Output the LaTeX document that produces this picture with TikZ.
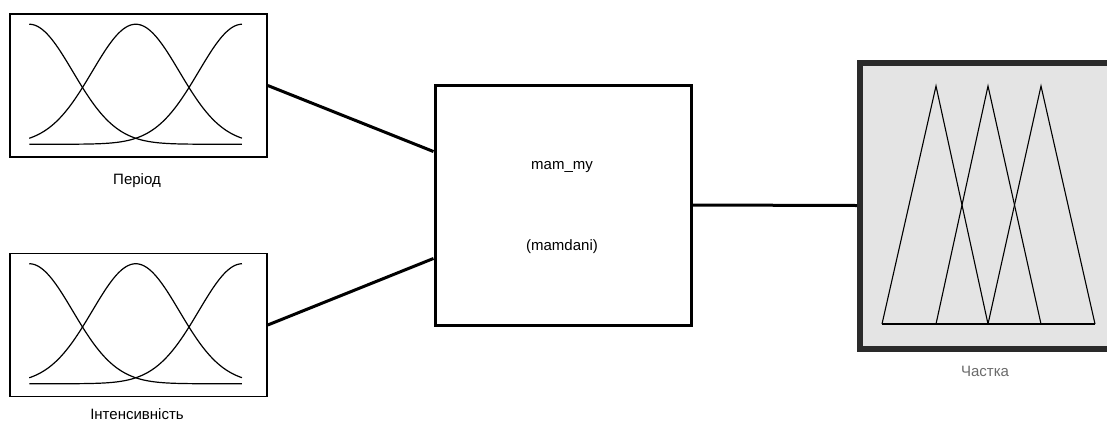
\documentclass[tikz,border=0pt]{standalone}
\usepackage{fontspec}
\setmainfont{Liberation Sans}
\usetikzlibrary{calc}
\definecolor{framegray}{HTML}{2A2A2A}
\definecolor{fillgray}{HTML}{E4E4E4}
\definecolor{labelgray}{HTML}{6A6A6A}
\tikzset{
  mfbox/.style={draw=black, line width=1.5pt, minimum width=257pt, minimum height=143pt, inner sep=0pt},
  mainbox/.style={draw=black, line width=3pt, minimum width=256pt, minimum height=240pt, inner sep=0pt},
  conn/.style={line width=3pt, black},
  mf/.style={line width=1.2pt, black},
  lbl/.style={font=\fontsize{15}{17}\selectfont, inner sep=0pt},
}
\begin{document}
\begin{tikzpicture}[x=1pt,y=-1pt]
\useasboundingbox (0,0) rectangle (1107,426);
% input boxes
\node[mfbox] (in1) at (138.5,85.5) {};
\node[mfbox] (in2) at (138.5,325) {};
\node[lbl] (l1) at (137,181) {Період};
\node[lbl] (l2) at (137,414) {Інтенсивність};
% gaussian membership functions
\foreach \b in {in1,in2}{
  \begin{scope}[shift={(\b.north west)}]
    \foreach \c in {0,106.5,213}{
      \draw[mf] plot[domain=0:1,samples=120] ({20+213*\x},{131-120*exp(-0.5*((213*\x-\c)/43.5)^2)});
    }
  \end{scope}
}
% main box
\node[mainbox] (mid) at (563,205) {};
\node[lbl] (t1) at (562,167) {mam\_my};
\node[lbl] (t2) at (562,247) {(mamdani)};
% output box
\begin{scope}
  \clip (0,0) rectangle (1107,426);
  \node[draw=framegray, fill=fillgray, line width=6pt, minimum width=260pt, minimum height=286pt, inner sep=0pt] (out) at (990,205.5) {};
\end{scope}
\node[lbl, text=labelgray] (l3) at (985,371) {Частка};
% triangular MFs
\begin{scope}[mf, line width=1.1pt]
  \draw (882,324) -- (1095,324);
  \draw (882,324) -- (936,86) -- (988,324);
  \draw (936,324) -- (988,86) -- (1041,324);
  \draw (988,324) -- (1041,86) -- (1095,324);
\end{scope}
% connectors
\draw[conn] (in1.east) -- ($(mid.north west)!0.28!(mid.south west)$);
\draw[conn] (in2.east) -- ($(mid.north west)!0.72!(mid.south west)$);
\draw[conn] (mid.east) -- (out.west);
\end{tikzpicture}
\end{document}
